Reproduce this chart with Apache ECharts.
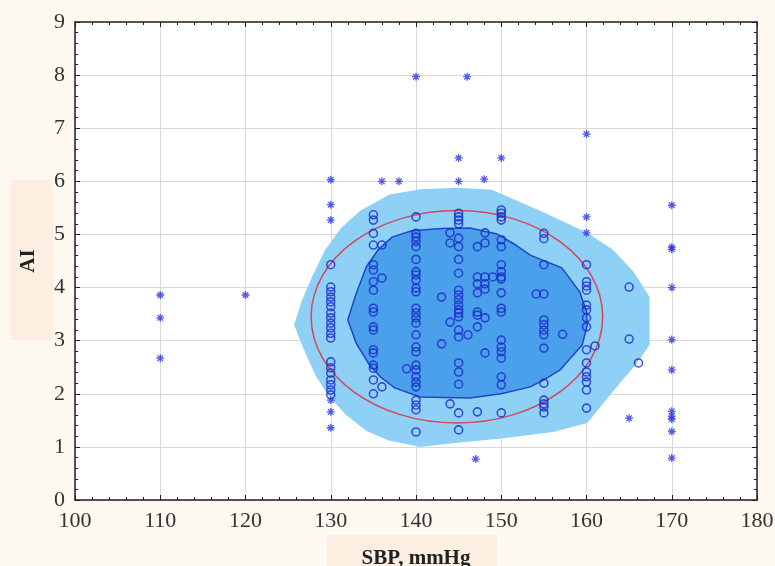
<!DOCTYPE html>
<html>
<head>
<meta charset="utf-8">
<script src="https://cdn.jsdelivr.net/npm/echarts@6/dist/echarts.min.js"></script>
<style>
  html, body { margin: 0; padding: 0; background: #fdf8f0; }
  #chart { width: 775px; height: 566px; }
</style>
</head>
<body>
<div id="chart"></div>
<script>
// axis ticks
const xTicks = [100, 110, 120, 130, 140, 150, 160, 170, 180]
const yTicks = [0, 1, 2, 3, 4, 5, 6, 7, 8, 9]

// circles, grouped by SBP value
const col130 = [4.43, 4.01, 3.92, 3.82, 3.73, 3.64, 3.52, 3.43, 3.33, 3.24, 3.14, 3.05, 2.60, 2.49, 2.39, 2.26, 2.17, 2.07, 1.98]
const col135 = [5.37, 5.27, 5.02, 4.80, 4.43, 4.33, 4.11, 3.95, 3.61, 3.54, 3.26, 3.20, 2.83, 2.77, 2.54, 2.48, 2.26, 2.00]
const col136 = [4.80, 4.18, 2.13]
const col140 = [5.33, 5.02, 4.95, 4.87, 4.77, 4.53, 4.30, 4.24, 4.14, 3.99, 3.92, 3.61, 3.52, 3.43, 3.33, 3.11, 2.88, 2.79, 2.54, 2.45, 2.32, 2.22, 2.13, 1.88, 1.79, 1.70, 1.28]
const col145 = [5.40, 5.33, 5.27, 5.20, 4.93, 4.77, 4.53, 4.27, 3.95, 3.86, 3.77, 3.67, 3.58, 3.52, 3.45, 3.20, 3.07, 2.58, 2.41, 2.18, 1.64, 1.32]
const col150 = [5.46, 5.40, 5.33, 5.27, 4.90, 4.77, 4.43, 4.30, 4.20, 4.16, 3.90, 3.61, 3.54, 3.01, 2.88, 2.79, 2.67, 2.32, 2.17, 1.64]
const col155 = [5.02, 4.92, 4.43, 3.88, 3.39, 3.30, 3.20, 3.11, 2.86, 2.20, 1.88, 1.81, 1.75, 1.64]
const col160 = [4.43, 4.11, 4.03, 3.95, 3.67, 3.58, 3.43, 3.26, 2.83, 2.58, 2.41, 2.32, 2.22, 2.07, 1.73]
const col165 = [4.01, 3.03]
const otherCircles = [
  [138.9, 2.47], [143.0, 3.82], [144.0, 3.35], [143.0, 2.94], [144.0, 5.03], [144.0, 4.84],
  [144.0, 1.81], [147.2, 4.77], [147.2, 4.20], [147.2, 4.07], [148.1, 4.20], [148.1, 4.07],
  [148.1, 3.97], [149.0, 4.20], [147.2, 3.54], [147.2, 3.48], [147.2, 3.26], [148.1, 3.43],
  [147.2, 3.90], [146.1, 3.11], [148.1, 2.77], [148.1, 5.03], [148.1, 4.84], [147.2, 1.66],
  [154.1, 3.88], [157.2, 3.12], [161.0, 2.90], [166.1, 2.58]
]

// outliers (asterisks)
const outliers = [
  [110, 3.86], [110, 3.43], [110, 2.67], [120, 3.86],
  [130, 6.03], [130, 5.56], [130, 5.27], [130, 1.88], [130, 1.66], [130, 1.36],
  [136, 6.0], [138, 6.0], [140, 7.97], [146, 7.97], [145, 6.44], [145, 6.0],
  [148, 6.04], [150, 6.44], [160, 6.89], [160, 5.33], [160, 5.03], [165, 1.54], [147, 0.77],
  [170, 5.55], [170, 4.76], [170, 4.72], [170, 4.0], [170, 3.02], [170, 2.45],
  [170, 1.67], [170, 1.58], [170, 1.52], [170, 1.29], [170, 0.79]
]

// bag regions (vertices in data units)
const outerHull = [
  [125.7, 3.30], [126.6, 3.75], [127.8, 4.20], [129.3, 4.70], [131.2, 5.12], [133.5, 5.45],
  [136.9, 5.75], [140.5, 5.85], [144.8, 5.88], [148.9, 5.84], [154.5, 5.45], [160.1, 5.03],
  [163.1, 4.71], [165.5, 4.30], [167.4, 3.82], [167.4, 2.92], [165.8, 2.55], [163.9, 2.20],
  [160.1, 1.45], [156.1, 1.28], [150.0, 1.16], [144.3, 1.07], [140.5, 1.00], [136.8, 1.12],
  [134.2, 1.30], [131.8, 1.60], [129.8, 1.95], [128.2, 2.35], [126.8, 2.85]
]
const innerHull = [
  [132.0, 3.39], [132.9, 3.85], [134.2, 4.40], [135.6, 4.72], [137.2, 4.95], [139.5, 5.07],
  [143.0, 5.11], [146.3, 5.12], [149.5, 5.01], [151.5, 4.82], [153.4, 4.61], [157.1, 4.37],
  [159.2, 3.92], [160.0, 3.55], [160.1, 3.30], [159.5, 2.92], [156.9, 2.45], [155.0, 2.26],
  [153.4, 2.13], [150.0, 2.00], [146.3, 1.92], [140.5, 1.94], [137.5, 2.11], [135.8, 2.32],
  [134.4, 2.58], [133.0, 2.95]
]
// ellipse: centre x, centre y, radius x, radius y
const ellipse = [144.8, 3.45, 17.1, 2.0]

const circles = [
  ...col130.map(v => [130, v]),
  ...col135.map(v => [135, v]),
  ...col136.map(v => [136, v]),
  ...col140.map(v => [140, v]),
  ...col145.map(v => [145, v]),
  ...col150.map(v => [150, v]),
  ...col155.map(v => [155, v]),
  ...col160.map(v => [160, v]),
  ...col165.map(v => [165, v]),
  ...otherCircles
]

const serif = 'Liberation Serif'

const hullSeries = (hull, fill, stroke) => ({
  type: 'custom',
  silent: true,
  data: [hull[0]],
  renderItem: (params, api) => ({
    type: 'polygon',
    shape: { points: hull.map(p => api.coord(p)) },
    style: { fill: fill, stroke: stroke, lineWidth: stroke ? 1.5 : 0 }
  })
})

const baseX = {
  type: 'value', min: 100, max: 180, interval: 10,
  axisLine: { show: true, onZero: false, lineStyle: { color: '#222', width: 1.5 } },
  axisTick: { show: true, inside: true, length: 5, lineStyle: { color: '#222' } },
  minorTick: { show: true, splitNumber: 5, length: 3, lineStyle: { color: '#222' } }
}
const baseY = {
  type: 'value', min: 0, max: 9, interval: 1,
  axisLine: { show: true, onZero: false, lineStyle: { color: '#222', width: 1.5 } },
  axisTick: { show: true, inside: true, length: 5, lineStyle: { color: '#222' } },
  minorTick: { show: true, splitNumber: 5, length: 3, lineStyle: { color: '#222' } }
}

const chart = echarts.init(document.getElementById('chart'))
chart.setOption({
  backgroundColor: '#fdf8f0',
  animation: false,
  graphic: [
    { type: 'rect', shape: { x: 10, y: 180, width: 43, height: 160 }, style: { fill: '#fcefe2' }, z: -10 },
    { type: 'rect', shape: { x: 327, y: 535, width: 170, height: 31 }, style: { fill: '#fcefe2' }, z: -10 }
  ],
  grid: {
    left: 75, right: 18, top: 22, bottom: 66,
    containLabel: false, outerBoundsMode: 'none',
    show: true, backgroundColor: '#fff', borderWidth: 0
  },
  xAxis: [
    Object.assign({}, baseX, {
      position: 'bottom',
      name: 'SBP, mmHg', nameLocation: 'middle', nameGap: 48,
      nameTextStyle: { fontFamily: serif, fontWeight: 'bold', fontSize: 21, color: '#222', verticalAlign: 'top' },
      axisLabel: { color: '#333', fontFamily: serif, fontSize: 22, margin: 10,
        formatter: v => xTicks.includes(v) ? String(v) : '' },
      splitLine: { show: true, lineStyle: { color: '#d9d9d9', width: 1 } }
    }),
    Object.assign({}, baseX, { position: 'top', axisLabel: { show: false }, splitLine: { show: false } })
  ],
  yAxis: [
    Object.assign({}, baseY, {
      position: 'left',
      name: 'AI', nameLocation: 'middle', nameGap: 36,
      nameTextStyle: { fontFamily: serif, fontWeight: 'bold', fontSize: 21, color: '#222' },
      axisLabel: { color: '#333', fontFamily: serif, fontSize: 22, margin: 10,
        formatter: v => yTicks.includes(v) ? String(v) : '' },
      splitLine: { show: true, lineStyle: { color: '#d9d9d9', width: 1 } }
    }),
    Object.assign({}, baseY, { position: 'right', axisLabel: { show: false }, splitLine: { show: false } })
  ],
  series: [
    hullSeries(outerHull, '#8fd1f6', null),
    hullSeries(innerHull, '#4aa0ea', '#1d47c8'),
    {
      type: 'custom',
      silent: true,
      data: [ellipse],
      encode: { x: 0, y: 1 },
      renderItem: (params, api) => {
        const c = api.coord([api.value(0), api.value(1)])
        const s = api.size([api.value(2), api.value(3)])
        return {
          type: 'ellipse',
          shape: { cx: c[0], cy: c[1], rx: s[0], ry: s[1] },
          style: { fill: null, stroke: '#d4475b', lineWidth: 1.5 }
        }
      }
    },
    {
      type: 'scatter',
      data: circles,
      symbol: 'circle',
      symbolSize: 8,
      itemStyle: { color: 'rgba(0,0,0,0)', borderColor: '#1a2ccc', borderWidth: 1.6 }
    },
    {
      type: 'scatter',
      data: outliers,
      symbol: 'path://M5 0L5 10M0 5L10 5M1.5 1.5L8.5 8.5M1.5 8.5L8.5 1.5',
      symbolSize: 8,
      itemStyle: { color: 'rgba(0,0,0,0)', borderColor: '#2a32e6', borderWidth: 1.3 }
    }
  ]
})
</script>
</body>
</html>
